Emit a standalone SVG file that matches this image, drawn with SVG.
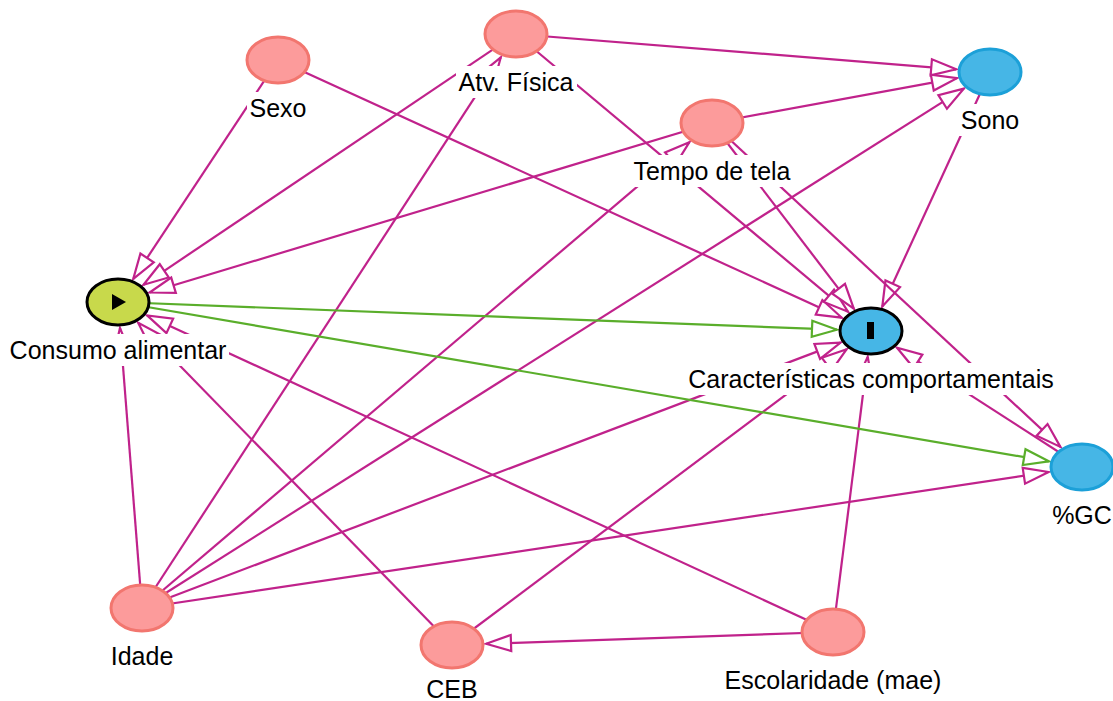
<svg xmlns="http://www.w3.org/2000/svg" width="1113" height="701" viewBox="0 0 1113 701">
<style>
.e{stroke:#c0228b;stroke-width:2.2;fill:none;marker-end:url(#am)}
.g{stroke:#5aae2b;stroke-width:2.2;fill:none;marker-end:url(#ag)}
.n{fill:#fc9b9b;stroke:#f2766f;stroke-width:3}
.b{fill:#46b6e6;stroke:#1ca0d8;stroke-width:3}
.bg{fill:#ffffff}
text{font-family:"Liberation Sans",Arial,sans-serif;font-size:25px;fill:#000;text-anchor:middle}
</style>
<defs>
<marker id="am" markerUnits="userSpaceOnUse" viewBox="-28 -11 32 22" markerWidth="32" markerHeight="22" refX="0" refY="0" orient="auto">
<path d="M0,0 L-25,-8 L-25,8 Z" fill="#fff" stroke="#c0228b" stroke-width="2.2"/>
</marker>
<marker id="ag" markerUnits="userSpaceOnUse" viewBox="-28 -11 32 22" markerWidth="32" markerHeight="22" refX="0" refY="0" orient="auto">
<path d="M0,0 L-25,-8 L-25,8 Z" fill="#fff" stroke="#5aae2b" stroke-width="2.2"/>
</marker>
</defs>
<rect width="1113" height="701" fill="#fff"/>
<g id="edges">
<path class="e" d="M278,60 L133.3,278.8"/>
<path class="e" d="M516,34 L143.5,284.8"/>
<path class="e" d="M712,123 L149.6,292.5"/>
<path class="e" d="M142,608 L120,328"/>
<path class="e" d="M452,645 L138.3,322.9"/>
<path class="e" d="M833,632 L147.1,315.4"/>
<path class="e" d="M278,60 L841.8,317.7"/>
<path class="e" d="M516,34 L848.1,311.8"/>
<path class="e" d="M712,123 L853.8,308.6"/>
<path class="e" d="M990,72 L882.3,306.5"/>
<path class="e" d="M142,608 L840.6,342.6"/>
<path class="e" d="M452,645 L846.7,349.2"/>
<path class="e" d="M833,632 L867.7,356.9"/>
<path class="e" d="M1082,467 L897,347.8"/>
<path class="e" d="M516,34 L956.2,69.3"/>
<path class="e" d="M712,123 L956.9,78.1"/>
<path class="e" d="M142,608 L963.8,88.6"/>
<path class="e" d="M142,608 L1048.6,472"/>
<path class="e" d="M712,123 L1060.4,446.9"/>
<path class="e" d="M142,608 L500.8,57.3"/>
<path class="e" d="M142,608 L689.3,142.3"/>
<path class="e" d="M833,632 L486,643.8"/>
<path class="g" d="M118,302 L837,329.7"/>
<path class="g" d="M118,302 L1048.8,461.3"/>
</g>
<g id="node-sexo">
<ellipse class="n" cx="278" cy="60" rx="31" ry="23"/>
<rect class="bg" x="247" y="92" width="62" height="32"/>
<text x="278" y="117">Sexo</text>
</g>
<g id="node-atv">
<ellipse class="n" cx="516" cy="34" rx="31" ry="23"/>
<rect class="bg" x="456" y="66" width="121" height="32"/>
<text x="516" y="91">Atv. Física</text>
</g>
<g id="node-tempo">
<ellipse class="n" cx="712" cy="123" rx="31" ry="23"/>
<rect class="bg" x="630" y="155" width="164" height="32"/>
<text x="712" y="180">Tempo de tela</text>
</g>
<g id="node-sono">
<ellipse class="b" cx="990" cy="72" rx="31" ry="23"/>
<rect class="bg" x="959" y="104" width="62" height="32"/>
<text x="990" y="129">Sono</text>
</g>
<g id="node-consumo">
<ellipse cx="118" cy="302" rx="31" ry="23" fill="#c8d94b" stroke="#000" stroke-width="3"/>
<path d="M112,294 L112,310 L126,302 Z" fill="#000"/>
<rect class="bg" x="8" y="334" width="221" height="32"/>
<text x="118" y="359">Consumo alimentar</text>
</g>
<g id="node-caract">
<ellipse cx="871" cy="331" rx="31" ry="23" fill="#46b6e6" stroke="#000" stroke-width="3"/>
<rect x="867" y="322" width="7" height="17" fill="#000"/>
<rect class="bg" x="686" y="363" width="370" height="32"/>
<text x="871" y="388">Características comportamentais</text>
</g>
<g id="node-gc">
<ellipse class="b" cx="1082" cy="467" rx="31" ry="23"/>
<rect class="bg" x="1050" y="499" width="63" height="32"/>
<text x="1082" y="524">%GC</text>
</g>
<g id="node-idade">
<ellipse class="n" cx="142" cy="608" rx="31" ry="23"/>
<rect class="bg" x="109" y="640" width="67" height="32"/>
<text x="142" y="665">Idade</text>
</g>
<g id="node-ceb">
<ellipse class="n" cx="452" cy="645" rx="31" ry="23"/>
<rect class="bg" x="424" y="674" width="56" height="27"/>
<text x="452" y="698">CEB</text>
</g>
<g id="node-escolaridade">
<ellipse class="n" cx="833" cy="632" rx="31" ry="23"/>
<rect class="bg" x="723" y="664" width="221" height="32"/>
<text x="833" y="689">Escolaridade (mae)</text>
</g>
</svg>
